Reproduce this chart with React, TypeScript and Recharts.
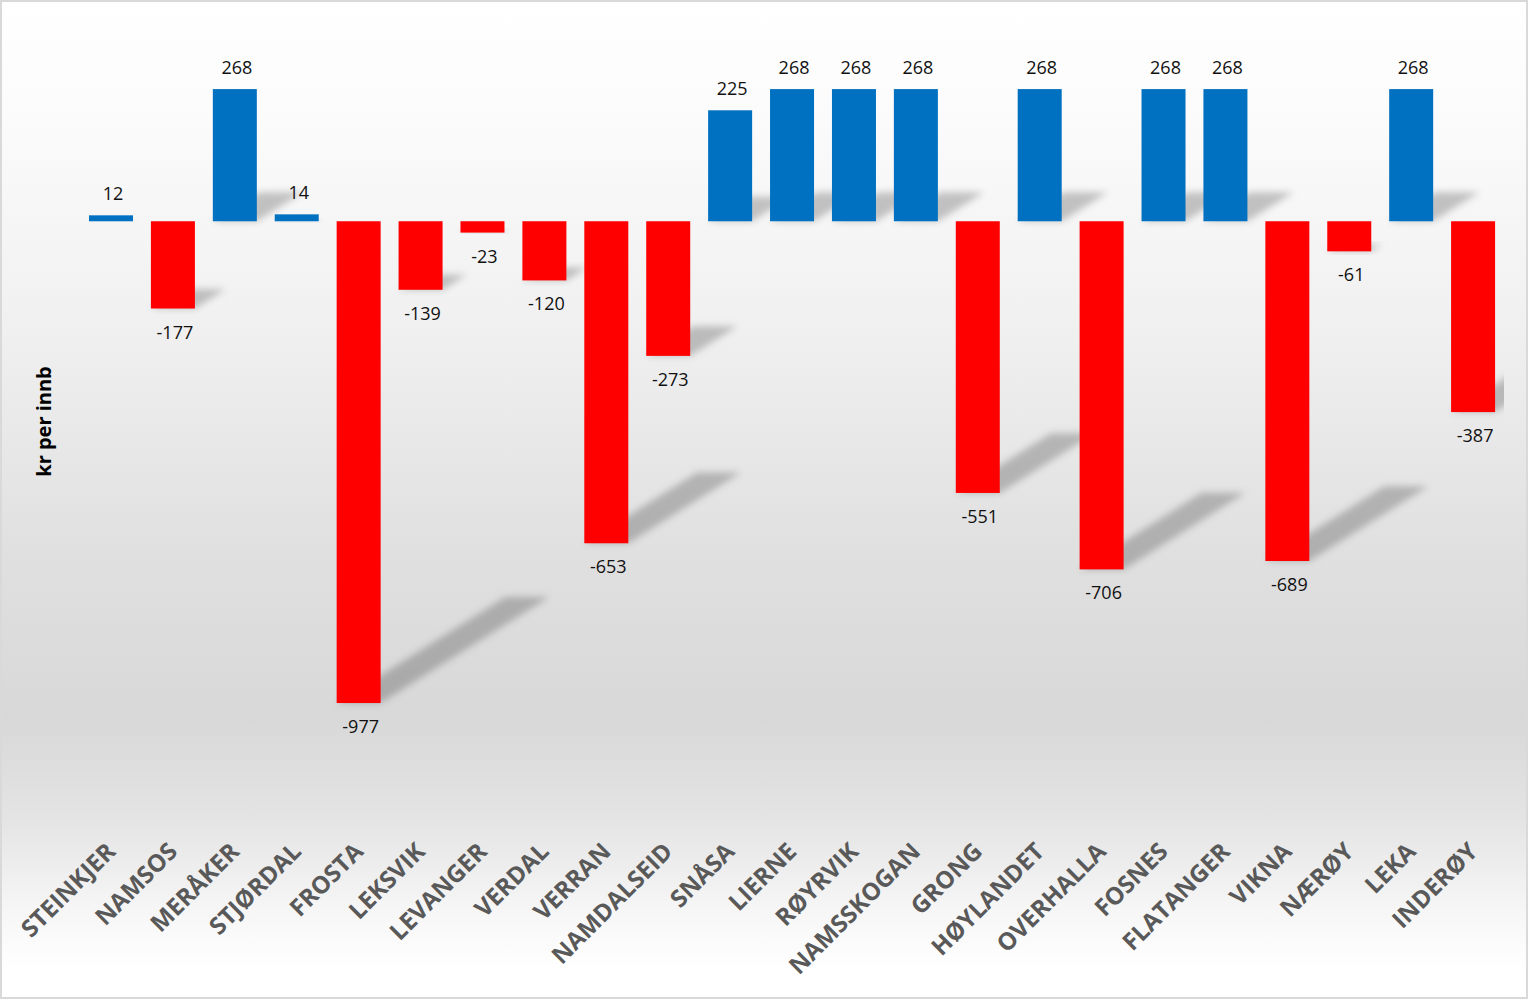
import React from "react";
import { BarChart, Bar, XAxis, YAxis, Cell, LabelList } from "recharts";

const categories = [
  "STEINKJER", "NAMSOS", "MERÅKER", "STJØRDAL", "FROSTA", "LEKSVIK", "LEVANGER",
  "VERDAL", "VERRAN", "NAMDALSEID", "SNÅSA", "LIERNE", "RØYRVIK", "NAMSSKOGAN",
  "GRONG", "HØYLANDET", "OVERHALLA", "FOSNES", "FLATANGER", "VIKNA", "NÆRØY",
  "LEKA", "INDERØY",
];
const values = [
  12, -177, 268, 14, -977, -139, -23, -120, -653, -273, 225, 268, 268, 268,
  -551, 268, -706, 268, 268, -689, -61, 268, -387,
];
const yDomain = [-1200, 400];
const yLabel = "kr per innb";

const POS = "#0070C0";
const NEG = "#FF0000";

const W = 1528;
const H = 999;
const MARGIN = { top: 24, right: 24, bottom: 0, left: 0 };

const data = categories.map((name, i) => ({ name, value: values[i] }));

const BarWithShadow = (props: any) => {
  const { x, y, width, height, fill, index } = props;
  if (x == null || y == null) return null;
  const top = Math.min(y, y + height);
  const h = Math.abs(height);
  const base = top + h;
  const dx = 0.35 * h;
  const dy = 0.22 * h;
  const pts = `${x},${base} ${x + width},${base} ${x + width + dx},${base - dy} ${x + dx},${base - dy}`;
  const fid = `shb${index}`;
  const cid = `shc${index}`;
  return (
    <g>
      <defs>
        <filter id={fid} x="-50%" y="-50%" width="200%" height="200%">
          <feGaussianBlur stdDeviation="3.5" />
        </filter>
        <clipPath id={cid}>
          <rect x={0} y={0} width={W - MARGIN.right} height={H} />
        </clipPath>
      </defs>
      <g clipPath={`url(#${cid})`}>
        <polygon points={pts} fill="#000" fillOpacity={0.22} filter={`url(#${fid})`} />
      </g>
      <rect x={x} y={top} width={width} height={h} fill={fill} />
    </g>
  );
};

const ValueLabel = (props: any) => {
  const { x, y, width, height, value } = props;
  const top = Math.min(y, y + height);
  const bottom = Math.max(y, y + height);
  const cx = x + width / 2 + 2;
  const cy = value >= 0 ? top - 22 : bottom + 23;
  return (
    <text
      x={cx}
      y={cy}
      textAnchor="middle"
      dominantBaseline="central"
      fontFamily="'Open Sans', sans-serif"
      fontSize={18}
      fill="#111"
    >
      {value}
    </text>
  );
};

const CatTick = (props: any) => {
  const { x, y, payload } = props;
  const ax = x + 6;
  const ay = y + 32;
  return (
    <text
      x={ax}
      y={ay}
      transform={`rotate(-45, ${ax}, ${ay})`}
      textAnchor="end"
      fontFamily="'Open Sans', sans-serif"
      fontWeight={700}
      fontSize={24}
      fill="#595959"
    >
      {payload.value}
    </text>
  );
};

const YTitle = (props: any) => {
  const { viewBox } = props;
  const cy = viewBox.y + viewBox.height / 2 + 3;
  const cx = 43;
  return (
    <text
      x={cx}
      y={cy}
      transform={`rotate(-90, ${cx}, ${cy})`}
      textAnchor="middle"
      dominantBaseline="central"
      fontFamily="'Open Sans', sans-serif"
      fontWeight={700}
      fontSize={20}
      fill="#000"
    >
      {yLabel}
    </text>
  );
};

export default function App() {
  return (
    <div
      style={{
        position: "absolute",
        left: 0,
        top: 0,
        width: W,
        height: H,
        background:
          "linear-gradient(to bottom, #ffffff 0%, #fbfbfb 12%, #f0f0f0 33%, #e0e0e0 55%, #d8d8d8 72%, #e4e4e4 82%, #f6f6f6 91%, #ffffff 97%)",
        boxShadow: "inset 0 0 0 2px #d9d9d9",
      }}
    >
      <BarChart width={W} height={H} data={data} margin={MARGIN} barSize={44}>
        <XAxis
          dataKey="name"
          interval={0}
          height={186}
          axisLine={false}
          tickLine={false}
          tick={<CatTick />}
        />
        <YAxis
          width={80}
          domain={yDomain}
          allowDataOverflow
          tick={false}
          axisLine={false}
          tickLine={false}
          label={<YTitle />}
        />
        <Bar dataKey="value" isAnimationActive={false} shape={<BarWithShadow />}>
          {data.map((d, i) => (
            <Cell key={i} fill={d.value >= 0 ? POS : NEG} />
          ))}
          <LabelList dataKey="value" content={<ValueLabel />} />
        </Bar>
      </BarChart>
    </div>
  );
}
